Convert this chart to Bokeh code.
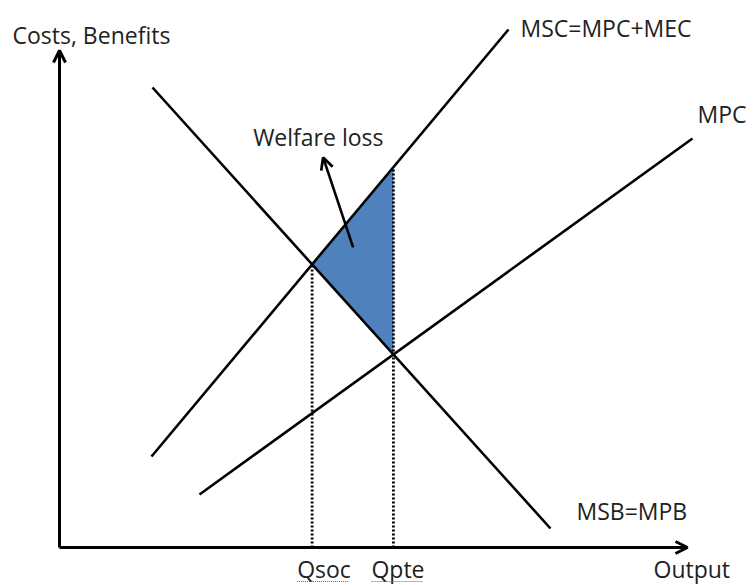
import numpy as np
from bokeh.plotting import figure
from bokeh.models import Range1d, Arrow, OpenHead
from bokeh.core.properties import value
from bokeh.embed import file_html
from bokeh.resources import INLINE

# ---- data (output, cost) endpoints of each curve ----
msb_q = [93, 491]
msb_p = [460, 19]
msc_q = [92, 449]
msc_p = [91, 518]
mpc_q = [140, 633]
mpc_p = [53, 409]
x_axis_end = 628
y_axis_end = 497

FONT = value("Open Sans")
FS = "23px"
TXT = "#222222"
DY = 10  # baseline correction


def coef(q, p):
    s = (p[1] - p[0]) / (q[1] - q[0])
    return s, p[0] - s * q[0]


def at(q, p, x):
    s, b = coef(q, p)
    return s * x + b


def cross(q1, p1, q2, p2):
    s1, b1 = coef(q1, p1)
    s2, b2 = coef(q2, p2)
    x = (b2 - b1) / (s1 - s2)
    return x, s1 * x + b1


q_soc, p_soc = cross(msb_q, msb_p, msc_q, msc_p)
q_pte, p_pte = cross(msb_q, msb_p, mpc_q, mpc_p)
p_top = at(msc_q, msc_p, q_pte)

p = figure(width=753, height=585, output_backend="svg", toolbar_location=None,
           x_range=Range1d(-59, 694), y_range=Range1d(-38, 547),
           min_border=0)
p.axis.visible = False
p.grid.visible = False
p.outline_line_color = None
p.background_fill_color = "white"

# welfare loss triangle
p.patch([q_soc, q_pte, q_pte], [p_soc, p_top, p_pte],
        fill_color="#4F81BD", line_color=None)

# curves
for q, pp in [(msb_q, msb_p), (msc_q, msc_p), (mpc_q, mpc_p)]:
    p.line(q, pp, line_color="black", line_width=2.6)

# dotted guides
p.line([q_soc, q_soc], [0, p_soc], line_color="black", line_width=2.8, line_dash="2 2")
p.line([q_pte, q_pte], [0, p_top], line_color="black", line_width=2.8, line_dash="2 2")

# axes with arrows
p.add_layout(Arrow(end=OpenHead(size=12, line_width=3, line_color="black"),
                   x_start=0, y_start=0, x_end=0, y_end=y_axis_end,
                   line_width=3, line_color="black"))
p.add_layout(Arrow(end=OpenHead(size=12, line_width=3, line_color="black"),
                   x_start=0, y_start=0, x_end=x_axis_end, y_end=0,
                   line_width=3, line_color="black"))

# welfare loss pointer
p.add_layout(Arrow(end=OpenHead(size=12, line_width=2.8, line_color="black"),
                   x_start=q_soc + 41, y_start=p_soc + 17,
                   x_end=q_soc + 11, y_end=p_soc + 107,
                   line_width=2.6, line_color="black"))

labels = [
    (-47, 503, "Costs, Benefits"),
    (msc_q[1] + 12, msc_p[1] - 8, "MSC=MPC+MEC"),
    (mpc_q[1] + 5, mpc_p[1] + 15, "MPC"),
    (q_soc - 59, p_soc + 117, "Welfare loss"),
    (msb_q[1] + 26, msb_p[1] + 8, "MSB=MPB"),
    (q_soc - 15, -31, "Qsoc"),
    (q_pte - 22, -31, "Qpte"),
    (x_axis_end - 34, -31, "Output"),
]
for x, y, t in labels:
    p.text(x=[x], y=[y + DY], text=[t], text_font=FONT, text_font_size=FS,
           text_color=TXT, text_align="left", text_baseline="alphabetic")

# spell-check squiggles under the quantity labels
for q0, w in [(q_soc - 15, 52), (q_pte - 22, 52)]:
    p.line([q0, q0 + w], [-34, -34], line_color="#d04040", line_width=1.2, line_dash="1 1")

open("out.html", "w").write(file_html(p, INLINE))
